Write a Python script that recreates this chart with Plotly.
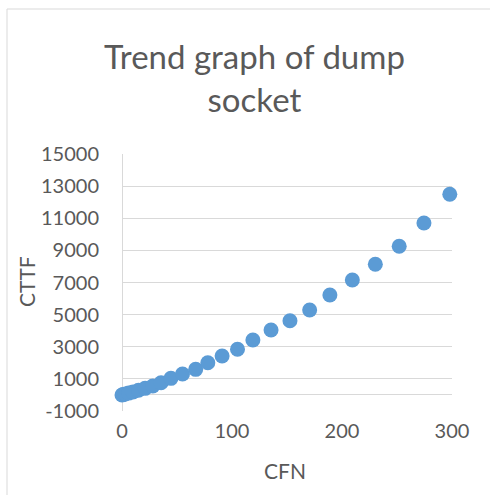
import plotly.graph_objects as go

# Data
cfn = [0, 1, 3, 6, 10, 15, 21, 28, 35.5, 44.5, 55, 67, 78, 91, 105, 119, 135.5,
       152.7, 170.6, 189, 209.4, 230.3, 252, 274.5, 298]
cttf = [0, 20, 55, 115, 190, 290, 410, 560, 760, 1034, 1300, 1594, 2005, 2422,
        2840, 3418, 4041, 4620, 5286, 6220, 7154, 8132, 9253, 10704, 12491]

y_ticks = [-1000, 1000, 3000, 5000, 7000, 9000, 11000, 13000, 15000]
y_labels = ["-1000", "1000", "3000", "5000", "7000", "9000", "11000", "13000", "15000"]
x_ticks = [0, 100, 200, 300]
x_labels = ["0", "100", "200", "300"]

TXT = "#595959"
GRID = "#d9d9d9"
FONT = "Lato"

fig = go.Figure()
fig.add_trace(go.Scatter(
    x=cfn, y=cttf, mode="markers",
    marker=dict(size=15, color="#5b9bd5", line=dict(width=0)),
    showlegend=False, cliponaxis=False,
))

W, H = 490, 495
L, R, T, B = 122, 38, 154, 84
pw, ph = W - L - R, H - T - B

fig.update_layout(
    width=W, height=H,
    margin=dict(l=L, r=R, t=T, b=B, pad=0),
    paper_bgcolor="white", plot_bgcolor="white",
    font=dict(family=FONT, color=TXT, size=20),
    xaxis=dict(range=[0, 300], tickvals=x_ticks, ticktext=x_labels, showgrid=False,
               zeroline=True, zerolinecolor=GRID, zerolinewidth=1,
               showline=False, ticks="", ticklabelstandoff=6,
               tickfont=dict(size=20, color=TXT)),
    yaxis=dict(range=[-1000, 15000], tickvals=y_ticks, ticktext=y_labels, showgrid=True,
               gridcolor=GRID, gridwidth=1,
               zeroline=True, zerolinecolor=GRID, zerolinewidth=1,
               showline=False, ticks="", ticklabelstandoff=22,
               tickfont=dict(size=20, color=TXT)),
)

# chart title (two lines)
fig.add_annotation(text="Trend graph of dump<br>socket", xref="paper", yref="paper",
                   x=(254 - L) / pw, y=(T + ph - 34) / ph,
                   xanchor="center", yanchor="top", showarrow=False,
                   font=dict(family=FONT, size=33, color=TXT))

# axis titles
fig.add_annotation(text="CFN", xref="paper", yref="paper",
                   x=(285 - L) / pw, y=-(470 - (T + ph)) / ph,
                   xanchor="center", yanchor="middle", showarrow=False,
                   font=dict(family=FONT, size=21, color=TXT))
fig.add_annotation(text="CTTF", xref="paper", yref="paper",
                   x=(26 - L) / pw, y=(T + ph - 282) / ph, textangle=-90,
                   xanchor="center", yanchor="middle", showarrow=False,
                   font=dict(family=FONT, size=21, color=TXT))

# chart border (extends past right/bottom edges)
fig.add_shape(type="rect", xref="paper", yref="paper",
              x0=(7 - L) / pw, x1=(W + 20 - L) / pw,
              y0=-(H + 20 - (T + ph)) / ph, y1=(T + ph - 9) / ph,
              line=dict(color=GRID, width=1), fillcolor="rgba(0,0,0,0)", layer="below")

fig.write_html("out.html")
